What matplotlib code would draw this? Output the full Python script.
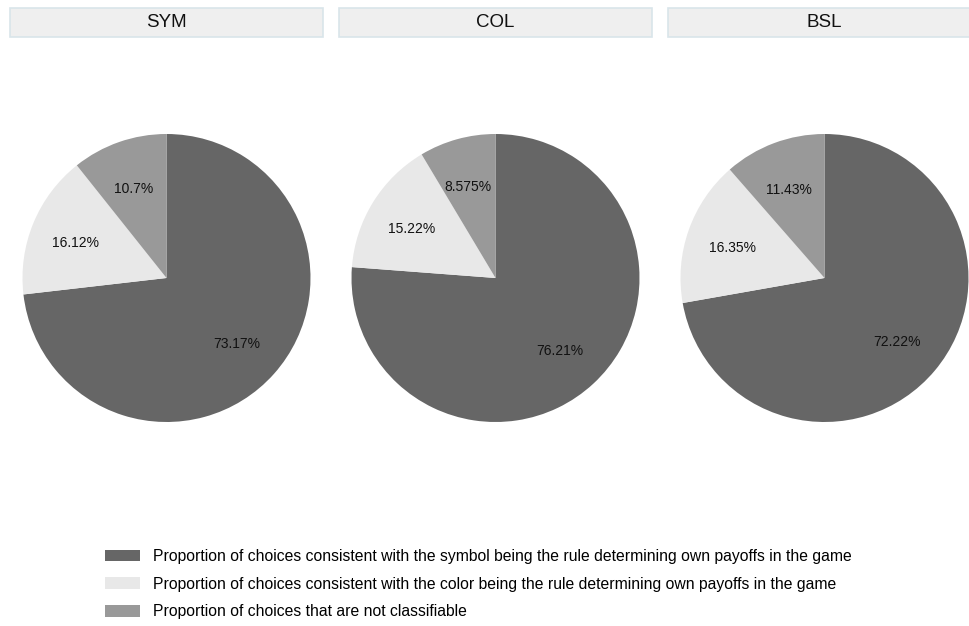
import matplotlib
matplotlib.use('Agg')
import matplotlib.pyplot as plt
from matplotlib.patches import Rectangle, Patch

plt.rcParams['font.family'] = ['Liberation Sans', 'DejaVu Sans']

# shares per treatment, in order: symbol, color, not classifiable
panels = ['SYM', 'COL', 'BSL']
share_sym = [73.17, 76.21, 72.22]
share_col = [16.12, 15.22, 16.35]
share_nc = [10.7, 8.575, 11.43]
colors = ['#666666', '#e8e8e8', '#999999']
legend_labels = [
    'Proportion of choices consistent with the symbol being the rule determining own payoffs in the game',
    'Proportion of choices consistent with the color being the rule determining own payoffs in the game',
    'Proportion of choices that are not classifiable',
]

W, H = 969, 626
fig = plt.figure(figsize=(W / 100, H / 100), dpi=100)
fig.patch.set_facecolor('white')

box_w, gap, box_x0 = 313, 16, 10
r = 144
for i, name in enumerate(panels):
    x0 = box_x0 + i * (box_w + gap)
    # header strip
    fig.patches.append(Rectangle((x0 / W, 1 - 37 / H), box_w / W, 29 / H,
                                 transform=fig.transFigure, facecolor='#efefef',
                                 edgecolor='#d9e5ea', linewidth=1.2))
    fig.text((x0 + box_w / 2) / W, 1 - 22.5 / H, name, ha='center', va='center',
             fontsize=13.5, color='#111111')

    cx, cy = x0 + box_w / 2, 278
    ax = fig.add_axes([(cx - r) / W, (H - cy - r) / H, 2 * r / W, 2 * r / H])
    vals = [share_sym[i], share_col[i], share_nc[i]]
    wedges, _, autotexts = ax.pie(vals, colors=colors, startangle=90, counterclock=False,
                                  radius=1, autopct='%1.1f', pctdistance=0.67,
                                  wedgeprops=dict(edgecolor='none'),
                                  textprops=dict(fontsize=10, color='#111111'))
    for t, v in zip(autotexts, vals):
        t.set_text(f'{v:.4g}%')
        x, y = t.get_position()
        t.set_position((x - 0.01, y - 0.015))
    ax.set_xlim(-1, 1)
    ax.set_ylim(-1, 1)
    ax.set_aspect('equal')
    ax.axis('off')

fs = 11.3
fpx = fs * 100 / 72
handles = [Patch(facecolor=c, edgecolor='none') for c in colors]
fig.legend(handles, legend_labels, loc='upper left',
           bbox_to_anchor=(105 / W, 1 - 549 / H), frameon=False, fontsize=fs,
           handlelength=35 / fpx, handleheight=12 / fpx, handletextpad=13 / fpx,
           labelspacing=(28.4 - fpx) / fpx, borderpad=0, borderaxespad=0)

fig.savefig('out.png', dpi=100, facecolor='white')
